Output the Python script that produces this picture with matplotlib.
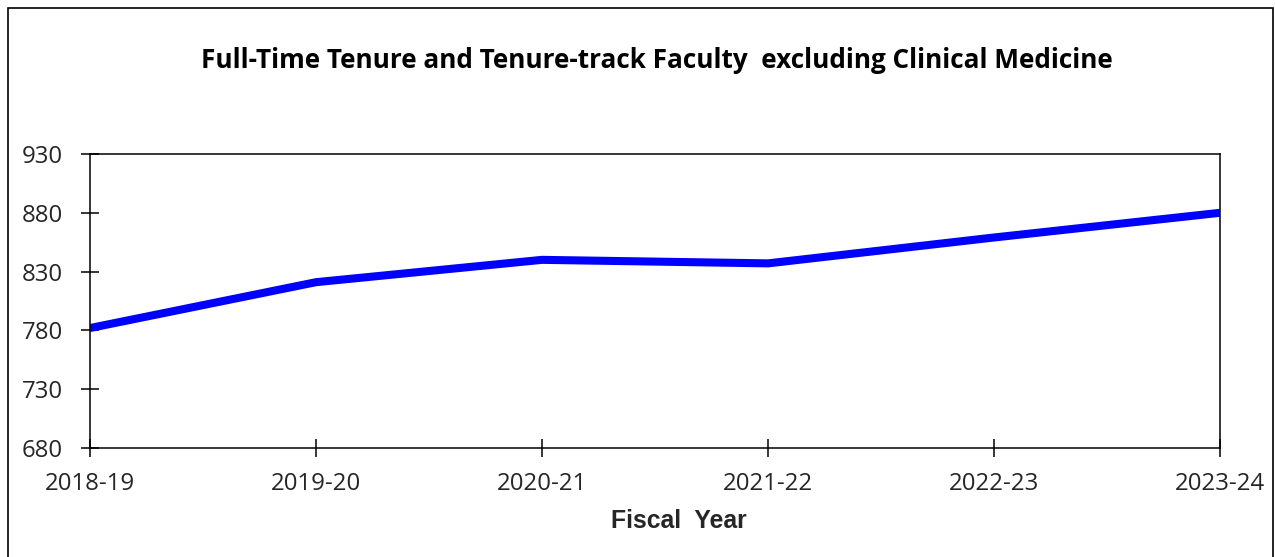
import matplotlib
matplotlib.use("Agg")
import matplotlib.pyplot as plt
from matplotlib.patches import Rectangle

years = ["2018-19", "2019-20", "2020-21", "2021-22", "2022-23", "2023-24"]
faculty = [782, 821, 840, 837, 859, 880]
yticks = [680, 730, 780, 830, 880, 930]

fig = plt.figure(figsize=(12.75, 5.57), dpi=100)
ax = fig.add_axes([90/1275, 1 - 448/557, 1130/1275, 294/557])

x = list(range(len(years)))
ax.plot(x, faculty, color="#0000ff", linewidth=5.8, solid_capstyle="butt")

ax.set_xlim(0, len(years) - 1)
ax.set_ylim(680, 930)
ax.set_xticks(x)
ax.set_xticklabels(years)
ax.set_yticks(yticks)

for s in ax.spines.values():
    s.set_linewidth(1.1)
    s.set_color("black")

ax.tick_params(axis="both", direction="inout", length=13, width=1.1,
               labelsize=17.3, colors="black", labelcolor="#262626")
ax.tick_params(axis="y", pad=13)
ax.tick_params(axis="x", pad=11)
for lab in ax.get_xticklabels() + ax.get_yticklabels():
    lab.set_family(["Open Sans", "DejaVu Sans"])

fig.text(657/1275, 1 - 61/557,
         "Full-Time Tenure and Tenure-track Faculty  excluding Clinical Medicine",
         ha="center", va="center", fontsize=18.8, fontweight="bold",
         family=["Open Sans", "DejaVu Sans"])
fig.text(679/1275, 1 - 521/557, "Fiscal  Year", ha="center", va="center",
         fontsize=17.8, fontweight="bold", color="#262626",
         family=["Liberation Sans", "DejaVu Sans"])

# outer chart border
fig.patches.append(Rectangle((8/1275, -0.05), 1265/1275, 1.05 - 8/557,
                             transform=fig.transFigure, fill=False,
                             edgecolor="black", linewidth=1.2))

fig.savefig("out.png", dpi=100)
